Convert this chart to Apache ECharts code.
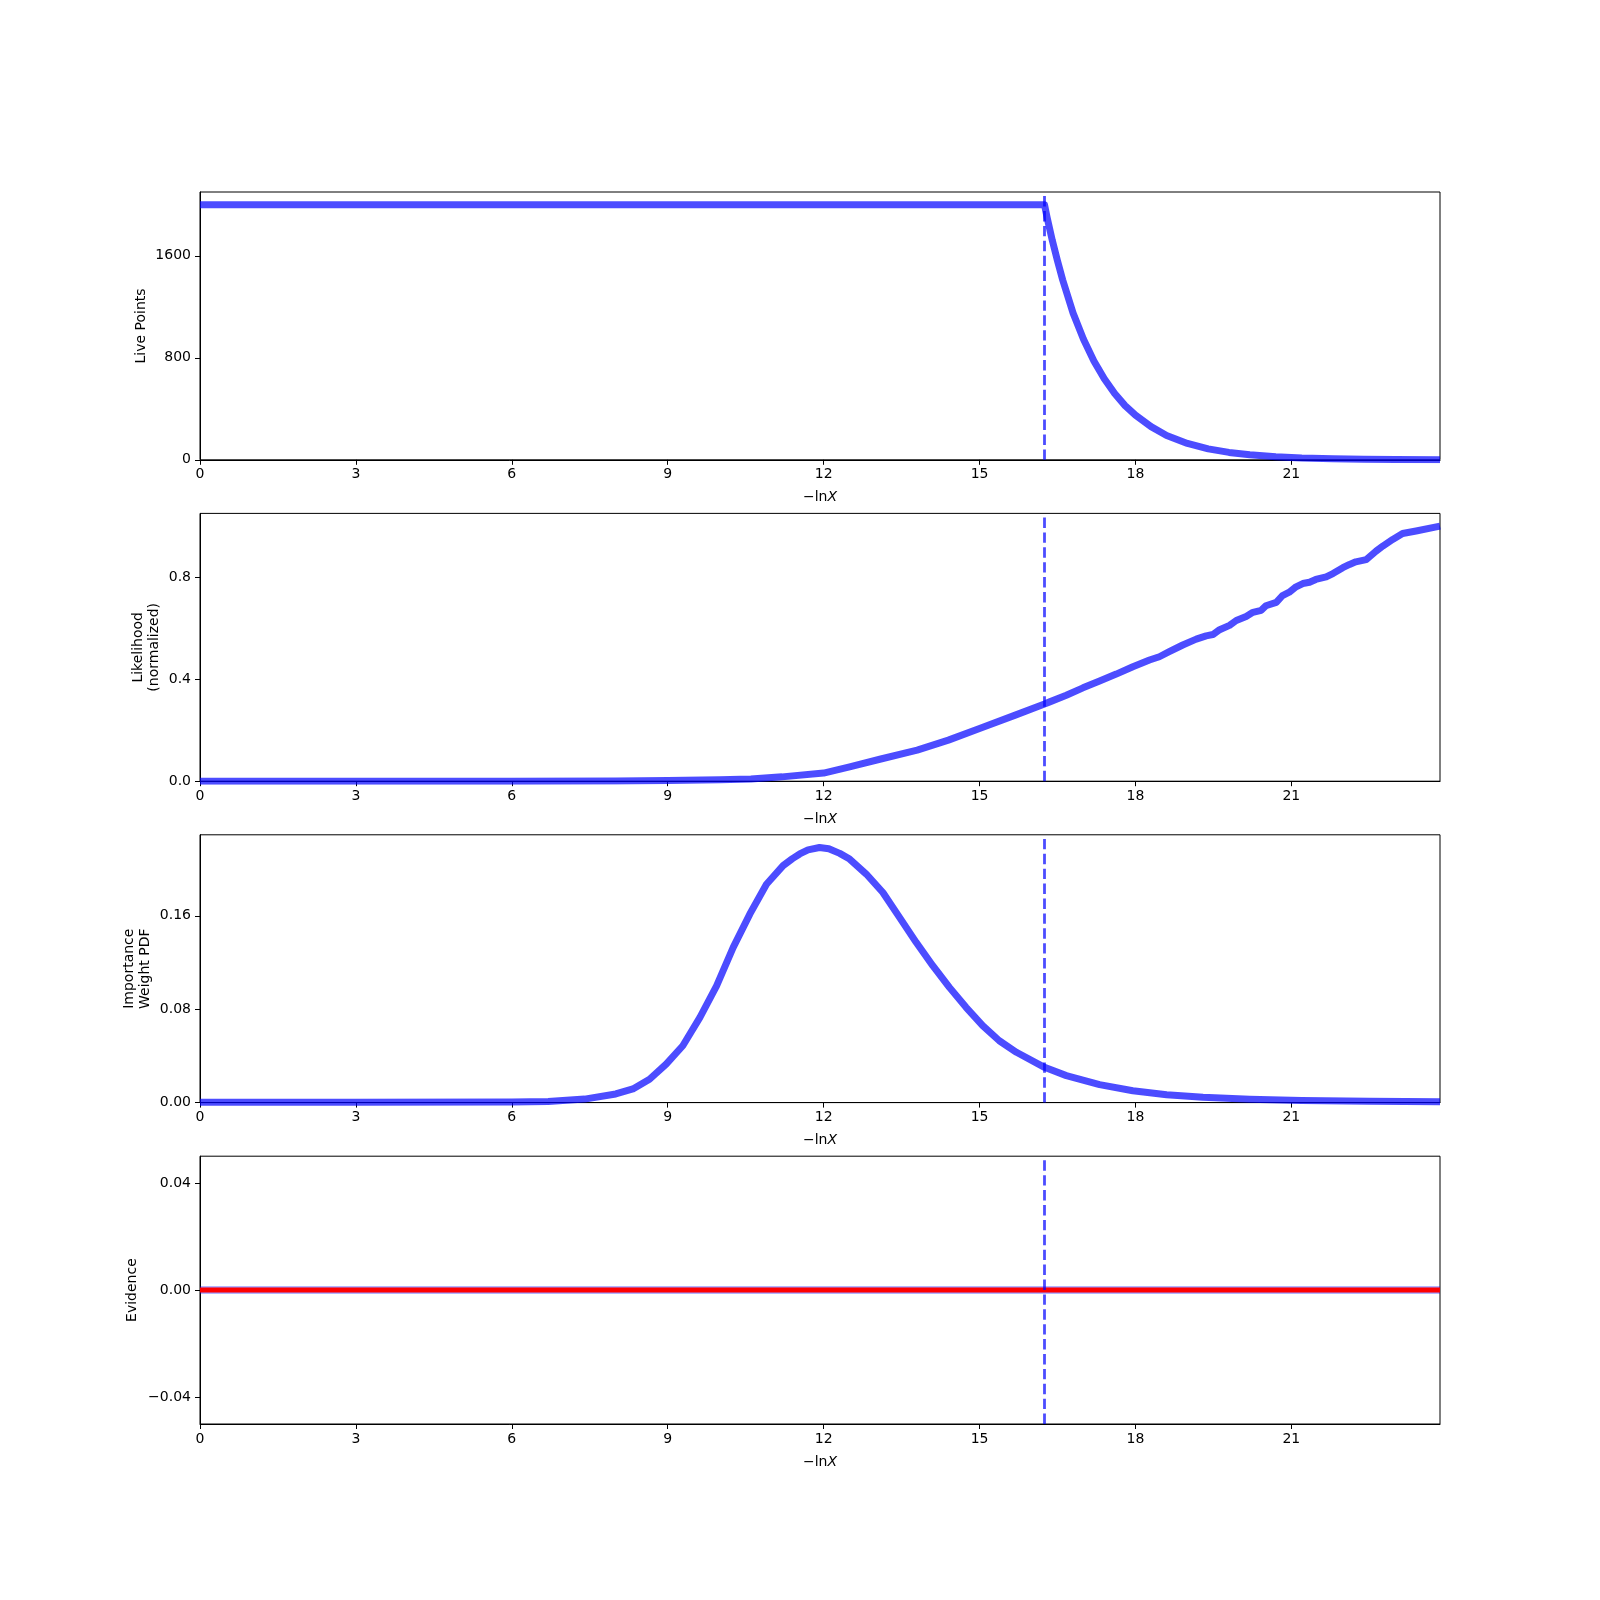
<!DOCTYPE html>
<html>
<head>
<meta charset="utf-8">
<script src="https://cdn.jsdelivr.net/npm/echarts@6/dist/echarts.min.js"></script>
<style>
html,body{margin:0;padding:0;background:#fff;}
#chart{width:1600px;height:1600px;}
</style>
</head>
<body>
<div id="chart"></div>
<script>
// ---------- data ----------
const xMax = 23.86;
const xTicks = [0, 3, 6, 9, 12, 15, 18, 21];
const stopX = [16.25];

// panel 1: live points
const liveX = [0, 16.25, 16.3, 16.4, 16.5, 16.6, 16.8, 17.0, 17.2, 17.4, 17.6, 17.8, 18.0, 18.3, 18.6, 19.0, 19.4, 19.8, 20.2, 20.7, 21.2, 21.8, 22.4, 23.0, 23.86];
const liveY = [2000, 2000, 1900, 1720, 1560, 1410, 1150, 945, 775, 635, 520, 425, 350, 260, 190, 128, 86, 58, 39, 24, 14, 8, 4, 2, 1];
const liveTicks = [0, 800, 1600];

// panel 2: likelihood (normalized)
const likeX = [0, 3, 6, 8, 9, 10, 10.6, 11.2, 12, 12.5, 13.1, 13.8, 14.4, 15.0, 15.7, 16.25, 16.35, 16.67, 16.99, 17.31, 17.63, 17.95, 18.27, 18.46, 18.65, 18.91, 19.17, 19.36, 19.49, 19.62, 19.81, 19.94, 20.13, 20.26, 20.42, 20.51, 20.71, 20.83, 20.96, 21.09, 21.22, 21.35, 21.47, 21.67, 21.80, 21.99, 22.12, 22.24, 22.44, 22.63, 22.76, 22.95, 23.14, 23.40, 23.86];
const likeY = [0, 0, 0, 0.001, 0.003, 0.006, 0.009, 0.017, 0.032, 0.056, 0.087, 0.122, 0.161, 0.207, 0.260, 0.303, 0.311, 0.337, 0.366, 0.393, 0.420, 0.449, 0.475, 0.488, 0.508, 0.534, 0.557, 0.570, 0.575, 0.594, 0.611, 0.630, 0.646, 0.662, 0.670, 0.688, 0.701, 0.728, 0.741, 0.762, 0.775, 0.780, 0.791, 0.801, 0.814, 0.837, 0.850, 0.860, 0.869, 0.902, 0.922, 0.948, 0.971, 0.981, 1.0];
const likeTicks = [0, 0.4, 0.8];

// panel 3: importance weight PDF
const wtX = [0, 3, 6, 6.7, 7.4, 8.0, 8.33, 8.65, 8.97, 9.29, 9.62, 9.94, 10.26, 10.58, 10.90, 11.22, 11.4, 11.54, 11.7, 11.92, 12.1, 12.31, 12.5, 12.82, 13.14, 13.46, 13.78, 14.10, 14.42, 14.74, 15.06, 15.38, 15.71, 16.25, 16.67, 17.31, 17.95, 18.6, 19.3, 20.2, 21.2, 22.5, 23.86];
const wtY = [0.0003, 0.0003, 0.0005, 0.001, 0.003, 0.0074, 0.0117, 0.020, 0.033, 0.0487, 0.073, 0.100, 0.133, 0.1615, 0.187, 0.203, 0.209, 0.213, 0.2165, 0.2185, 0.2175, 0.2135, 0.2086, 0.1958, 0.180, 0.1587, 0.1373, 0.1173, 0.0987, 0.0816, 0.0659, 0.053, 0.0431, 0.0302, 0.0231, 0.0154, 0.0102, 0.0068, 0.0045, 0.0028, 0.0018, 0.0011, 0.0007];
const wtTicks = [0, 0.08, 0.16];

// panel 4: evidence
const evX = [0, 23.86];
const evY = [0, 0];
const evTicks = [-0.04, 0, 0.04];

// ---------- layout / style ----------
const tops = [192, 513.4, 834.8, 1156.2];
const gridH = 267.8;
const yRanges = [[0, 2100], [0, 1.05], [0, 0.2294], [-0.05, 0.05]];
const yTickSets = [liveTicks, likeTicks, wtTicks, evTicks];
const yNames = ['Live Points', 'Likelihood\n(normalized)', 'Importance\nWeight PDF', 'Evidence'];
const yNameGaps = [51, 38, 47, 60];
const yFormat = [
  v => String(Math.round(v)),
  v => v.toFixed(1),
  v => v.toFixed(2),
  v => (v < 0 ? '\u2212' : '') + Math.abs(v).toFixed(2)
];
const FONT = 'DejaVu Sans';
const BLUE = 'rgba(0,0,255,0.7)';

function zip(a, b) { return a.map((v, i) => [v, b[i]]); }

const grids = [], xAxes = [], yAxes = [], series = [];
for (let i = 0; i < 4; i++) {
  grids.push({left: 200, width: 1240, top: tops[i], height: gridH, show: true,
    borderColor: '#000', borderWidth: 1, backgroundColor: 'transparent', containLabel: false});
  xAxes.push({
    type: 'value', gridIndex: i, min: 0, max: xMax,
    name: '\u2212ln{i|X}', nameLocation: 'middle', nameGap: 31, nameMoveOverlap: false,
    nameTextStyle: {fontFamily: FONT, fontSize: 14, color: '#000',
      rich: {i: {fontFamily: FONT, fontSize: 14, fontStyle: 'italic', color: '#000'}}},
    axisLine: {show: true, onZero: false, lineStyle: {color: '#000', width: 1}},
    axisTick: {show: true, inside: false, length: 5, customValues: xTicks, lineStyle: {color: '#000', width: 1}},
    axisLabel: {show: true, margin: 8, customValues: xTicks,
      fontFamily: FONT, fontSize: 14, color: '#000', formatter: v => String(Math.round(v))},
    splitLine: {show: false}
  });
  const yt = yTickSets[i];
  yAxes.push({
    type: 'value', gridIndex: i, min: yRanges[i][0], max: yRanges[i][1],
    name: yNames[i], nameLocation: 'middle', nameRotate: 90, nameGap: yNameGaps[i], nameMoveOverlap: false,
    nameTextStyle: {fontFamily: FONT, fontSize: 14, color: '#000', lineHeight: 16, align: 'center'},
    axisLine: {show: true, onZero: false, lineStyle: {color: '#000', width: 1}},
    axisTick: {show: true, inside: false, length: 5, customValues: yt, lineStyle: {color: '#000', width: 1}},
    axisLabel: {show: true, margin: 9, customValues: yt,
      fontFamily: FONT, fontSize: 14, color: '#000', formatter: yFormat[i]},
    splitLine: {show: false}
  });
}

const markLineCfg = {
  silent: true, symbol: ['none', 'none'], animation: false,
  label: {show: false},
  lineStyle: {color: BLUE, width: 2.8, type: [10.4, 4.5]},
  emphasis: {disabled: true},
  data: stopX.map(v => ({xAxis: v}))
};

function lineSeries(idx, data, extra) {
  return Object.assign({
    type: 'line', xAxisIndex: idx, yAxisIndex: idx, data: data,
    showSymbol: false, symbol: 'none', clip: true, animation: false,
    lineStyle: {color: BLUE, width: 7, join: 'round'},
    emphasis: {disabled: true}
  }, extra || {});
}

series.push(lineSeries(0, zip(liveX, liveY), {markLine: markLineCfg}));
series.push(lineSeries(1, zip(likeX, likeY), {markLine: markLineCfg}));
series.push(lineSeries(2, zip(wtX, wtY), {markLine: markLineCfg}));
series.push(lineSeries(3, zip(evX, evY), {lineStyle: {color: 'rgba(0,0,255,0.4)', width: 7.5}, markLine: markLineCfg}));
series.push(lineSeries(3, zip(evX, evY), {lineStyle: {color: '#ff0000', width: 5}}));

const chart = echarts.init(document.getElementById('chart'), null, {renderer: 'canvas', width: 1600, height: 1600});
chart.setOption({
  backgroundColor: '#fff',
  animation: false,
  grid: grids, xAxis: xAxes, yAxis: yAxes, series: series
});
</script>
</body>
</html>
